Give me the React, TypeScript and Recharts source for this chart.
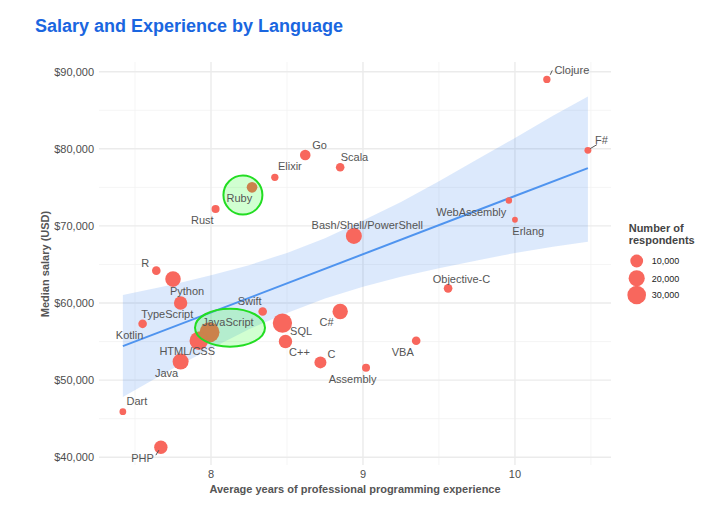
import {
  Area,
  CartesianGrid,
  ComposedChart,
  LabelList,
  Line,
  ReferenceDot,
  Scatter,
  XAxis,
  YAxis,
  ZAxis,
} from "recharts";

// survey summary per language
const languages = [
  "Clojure", "F#", "WebAssembly", "Erlang", "Objective-C", "VBA", "Assembly",
  "C", "C#", "SQL", "C++", "Bash/Shell/PowerShell", "Scala", "Go", "Elixir",
  "Ruby", "Rust", "R", "Python", "TypeScript", "Kotlin", "Swift", "JavaScript",
  "HTML/CSS", "Java", "Dart", "PHP",
];
const avgYears = [
  10.21, 10.48, 9.96, 10.0, 9.56, 9.35, 9.02, 8.72, 8.85, 8.47, 8.49, 8.94,
  8.85, 8.62, 8.42, 8.27, 8.03, 7.64, 7.75, 7.8, 7.55, 8.34, 7.99, 7.92, 7.8,
  7.42, 7.67,
];
const medianSalary = [
  89000, 79800, 73300, 70800, 61900, 55100, 51600, 52300, 58900, 57400, 55000,
  68700, 77600, 79200, 76300, 75000, 72200, 64200, 63100, 60000, 57300, 58900,
  56200, 55100, 52400, 45900, 41300,
];
const respondents = [
  1000, 700, 400, 150, 2300, 2300, 1600, 8100, 17500, 33000, 11500, 19600, 2250,
  5300, 1000, 5300, 1600, 2250, 18000, 11500, 2250, 2250, 36100, 29800, 19600,
  600, 11500,
];

// linear fit with its 95% band
const fitYears = [7.42, 10.48];
const fitSalary = [54400, 77500];
const bandYears = [7.42, 7.75, 8, 8.25, 8.5, 8.75, 9, 9.25, 9.5, 9.75, 10, 10.25, 10.48];
const bandLow = [47800, 51500, 54100, 56600, 58700, 60600, 62100, 63400, 64500, 65500, 66500, 67300, 67950];
const bandHigh = [61050, 62400, 63600, 64900, 66500, 68400, 70700, 73100, 75800, 78600, 81400, 84300, 86800];

// highlighted languages
const highlightNames = ["Ruby", "JavaScript"];
const highlightYears = [8.21, 8.125];
const highlightSalary = [74000, 56800];

const legendValues = [10000, 20000, 30000];
const xTicks = [8, 9, 10];
const yTicks = [40000, 50000, 60000, 70000, 80000, 90000];

const points = languages.map((name, i) => ({
  name,
  x: avgYears[i],
  y: medianSalary[i],
  n: respondents[i],
}));
const fit = fitYears.map((x, i) => ({ x, y: fitSalary[i] }));
const band = bandYears.map((x, i) => ({ x, range: [bandLow[i], bandHigh[i]] }));

// label placement relative to each bubble
const labelOffset: Record<string, [number, number]> = {
  Clojure: [25, -9],
  "F#": [13.5, -10.7],
  WebAssembly: [-37.6, 12],
  Erlang: [13.3, 11.7],
  "Objective-C": [13.4, -9.6],
  VBA: [-13.4, 11],
  Assembly: [-13.4, 11.6],
  C: [11, -8.3],
  "C#": [-13.6, 10.6],
  SQL: [18.7, 8.4],
  "C++": [14, 10.4],
  "Bash/Shell/PowerShell": [13.4, -11],
  Scala: [14.3, -10.3],
  Go: [14.3, -10],
  Elixir: [15, -11],
  Ruby: [-12.7, 11],
  Rust: [-13.3, 11],
  R: [-11, -7.4],
  Python: [14, 12.2],
  TypeScript: [-13.3, 11.3],
  Kotlin: [-13, 11.3],
  Swift: [-13, -10.3],
  JavaScript: [18.4, -10],
  "HTML/CSS": [-11.6, 10.3],
  Java: [-14, 11.4],
  Dart: [14, -11],
  PHP: [-18.3, 10.7],
};
const leaders: Record<string, [number, number, number, number]> = {
  Clojure: [3.4, -4.7, 5.4, -9],
  "F#": [2.3, -1.7, 9, -5.7],
  PHP: [-5, 8, -2, 3],
};
const ellipseSize: Record<string, [number, number]> = {
  Ruby: [19.5, 19.5],
  JavaScript: [35, 19],
};

const RED = "#F8675D";
const R_MIN = 2.4;
const R_MAX = 10.4;
const N_MAX = 40000;
const radiusFor = (n: number) => R_MIN + (R_MAX - R_MIN) * Math.sqrt(n / N_MAX);

const Bubble = (props: any) => {
  const r = typeof props.size === "number" ? props.size : radiusFor(props.payload?.n ?? 0);
  return <circle cx={props.cx} cy={props.cy} r={r} fill={RED} />;
};

const BubbleLabel = (props: any) => {
  const { x, y, width, height, value } = props;
  const cx = x + width / 2;
  const cy = y + height / 2;
  const off = labelOffset[value] ?? [0, -12];
  const seg = leaders[value];
  return (
    <g>
      {seg && (
        <line x1={cx + seg[0]} y1={cy + seg[1]} x2={cx + seg[2]} y2={cy + seg[3]} stroke="#555" strokeWidth={1} />
      )}
      <text x={cx + off[0]} y={cy + off[1]} textAnchor="middle" dominantBaseline="central" fontSize={11} fill="#555">
        {value}
      </text>
    </g>
  );
};

const money = (v: number) => "$" + v.toLocaleString("en-US");

export default function App() {
  return (
    <div style={{ position: "relative", width: 700, height: 500, fontFamily: '"Liberation Sans", Arial, sans-serif' }}>
      <ComposedChart width={700} height={500} margin={{ top: 54, right: 97, bottom: 18, left: 21 }}>
        <CartesianGrid
          stroke="#f3f3f3"
          strokeWidth={0.8}
          horizontalValues={[45000, 55000, 65000, 75000, 85000]}
          verticalValues={[7.5, 8.5, 9.5, 10.5]}
        />
        <CartesianGrid stroke="#ebebeb" strokeWidth={1.4} horizontalValues={yTicks} verticalValues={xTicks} />
        <XAxis
          type="number"
          dataKey="x"
          domain={[7.263, 10.632]}
          allowDataOverflow
          ticks={xTicks}
          height={25}
          axisLine={false}
          tickLine={false}
          tickSize={0}
          tickMargin={5}
          tick={{ fontSize: 11, fill: "#4d4d4d" }}
        />
        <YAxis
          type="number"
          dataKey="y"
          domain={[38990, 91260]}
          allowDataOverflow
          ticks={yTicks}
          width={70}
          axisLine={false}
          tickLine={false}
          tickSize={0}
          tickMargin={5}
          tickFormatter={money}
          tick={{ fontSize: 11, fill: "#4d4d4d" }}
        />
        <ZAxis type="number" dataKey="n" domain={[0, N_MAX]} range={[R_MIN, R_MAX]} scale="sqrt" />
        <Area
          data={band}
          dataKey="range"
          type="linear"
          stroke="none"
          fill="#3d85f0"
          fillOpacity={0.18}
          isAnimationActive={false}
          activeDot={false}
        />
        <Line
          data={fit}
          dataKey="y"
          type="linear"
          stroke="#4f94ef"
          strokeWidth={2}
          dot={false}
          activeDot={false}
          isAnimationActive={false}
        />
        <Scatter data={points} shape={Bubble} isAnimationActive={false}>
          <LabelList dataKey="name" content={BubbleLabel} />
        </Scatter>
        {highlightNames.map((name, i) => (
          <ReferenceDot
            key={name}
            x={highlightYears[i]}
            y={highlightSalary[i]}
            r={10}
            ifOverflow="visible"
            shape={(p: any) => (
              <ellipse
                cx={p.cx}
                cy={p.cy}
                rx={ellipseSize[name][0]}
                ry={ellipseSize[name][1]}
                fill="#00ff00"
                fillOpacity={0.18}
                stroke="#22dd22"
                strokeWidth={2}
              />
            )}
          />
        ))}
      </ComposedChart>
      <svg
        width={700}
        height={500}
        style={{ position: "absolute", left: 0, top: 0, pointerEvents: "none" }}
      >
        <text x={27} y={23.5} fontSize={18} fontWeight="bold" fill="#1a66e0">
          Salary and Experience by Language
        </text>
        <text x={347} y={485} textAnchor="middle" fontSize={11} fontWeight="bold" fill="#555">
          Average years of professional programming experience
        </text>
        <text
          x={36.5}
          y={256}
          textAnchor="middle"
          dominantBaseline="central"
          fontSize={11}
          fontWeight="bold"
          fill="#555"
          transform="rotate(-90, 36.5, 256)"
        >
          Median salary (USD)
        </text>
        <text x={620.7} y={224.3} fontSize={11} fontWeight="bold" fill="#444">
          Number of
        </text>
        <text x={620.7} y={235.7} fontSize={11} fontWeight="bold" fill="#444">
          respondents
        </text>
        {legendValues.map((v, i) => {
          const cy = [253, 270.3, 287][i];
          return (
            <g key={v}>
              <circle cx={628.7} cy={cy} r={radiusFor(v)} fill={RED} />
              <text x={643.7} y={cy + 3.2} fontSize={9} fill="#222">
                {v.toLocaleString("en-US")}
              </text>
            </g>
          );
        })}
      </svg>
    </div>
  );
}
